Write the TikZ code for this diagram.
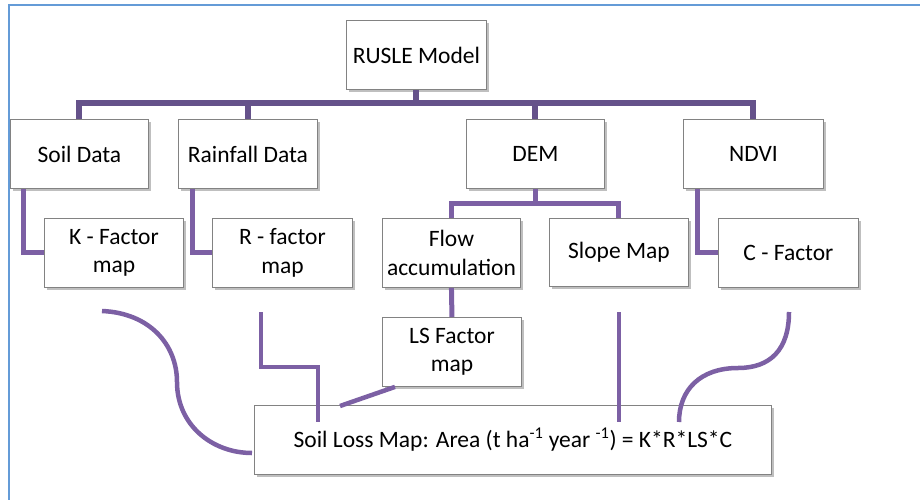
\documentclass[tikz,border=0pt]{standalone}
\usepackage{fontspec}
\setmainfont{Carlito}
\usetikzlibrary{shadows}
\definecolor{frameblue}{RGB}{100,155,215}
\definecolor{busp}{RGB}{101,82,138}
\definecolor{linep}{RGB}{124,96,164}
\definecolor{boxgray}{RGB}{130,130,130}
\tikzset{
  bx/.style={draw=boxgray, line width=0.9pt, fill=white, rectangle, anchor=north west,
    inner sep=0pt, align=center, font=\fontsize{23.5}{28.5}\selectfont,
    drop shadow={shadow xshift=2.5pt, shadow yshift=-2.5pt, fill=black, opacity=0.25}},
  busline/.style={draw=busp, line width=6pt},
  conn/.style={draw=linep, line width=5pt},
  curv/.style={draw=linep, line width=4.5pt},
  framel/.style={draw=frameblue, line width=1.6pt}
}
\begin{document}
\begin{tikzpicture}[x=1pt,y=-1pt]
\useasboundingbox (0,0) rectangle (920,500);
% frame
\coordinate (fa) at (9,500);
\coordinate (fb) at (9,5);
\coordinate (fc) at (920,5);
\draw[framel] (fa) -- (fb) -- (fc);
% nodes
\node[bx, minimum width=140pt, minimum height=69pt] (rusle) at (346,20) {RUSLE Model};
\node[bx, minimum width=138pt, minimum height=69pt] (soil) at (10,119) {Soil Data};
\node[bx, minimum width=139pt, minimum height=69pt] (rain) at (178,119) {Rainfall Data};
\node[bx, minimum width=138pt, minimum height=69pt] (dem) at (466,119) {DEM};
\node[bx, minimum width=140pt, minimum height=69pt] (ndvi) at (683,119) {NDVI};
\node[bx, minimum width=139pt, minimum height=69pt] (kf) at (44,218) {K - Factor\\map};
\node[bx, minimum width=140pt, minimum height=69pt] (rf) at (212,218) {R - factor\\map};
\node[bx, minimum width=138pt, minimum height=69pt] (flow) at (382,218) {Flow\\accumulation};
\node[bx, minimum width=139pt, minimum height=68pt] (slope) at (549,218) {Slope Map};
\node[bx, minimum width=140pt, minimum height=69pt] (cf) at (718,218) {C - Factor};
\node[bx, minimum width=139pt, minimum height=69pt] (ls) at (382,317) {LS Factor\\map};
\node[bx, minimum width=517pt, minimum height=69pt] (sl) at (254,405) {Soil Loss Map: Area (t ha\textsuperscript{-1} year \textsuperscript{-1}) = K*R*LS*C};
% top bus
\coordinate (bus) at (0,103);
\draw[busline] (rusle.south) -- (rusle.south |- bus);
\draw[busline] (soil.north) -- (soil.north |- bus) -- (ndvi.north |- bus) -- (ndvi.north);
\draw[busline] (rain.north) -- (rain.north |- bus);
\draw[busline] (dem.north) -- (dem.north |- bus);
% side connectors
\draw[conn] ([xshift=13pt]soil.south west) |- (kf.west);
\draw[conn] ([xshift=14pt]rain.south west) |- (rf.west);
\draw[conn] ([xshift=14pt]ndvi.south west) |- (cf.west);
% DEM sub-bus
\coordinate (dbus) at (0,203);
\draw[conn] (dem.south) -- (dem.south |- dbus);
\draw[conn] (flow.north) -- (flow.north |- dbus) -- (slope.north |- dbus) -- (slope.north);
\draw[conn] (flow.south) -- (ls.north);
% bottom connectors
\coordinate (k0) at (102,311);
\coordinate (km) at (177,382);
\coordinate (k1) at (252,453);
\draw[curv] (k0) .. controls (150,313) and (177,345) .. (km) .. controls (177,425) and (212,453) .. (k1);
\coordinate (r0) at (261,312);
\coordinate (r1) at (318,367);
\coordinate (r2) at (318,422);
\draw[curv] (r0) |- (r1) -- (r2);
\coordinate (l1) at (340,406);
\draw[curv] ([xshift=13pt]ls.south west) -- (l1);
\coordinate (s0) at (619,312);
\coordinate (s1) at (619,422);
\draw[curv] (s0) -- (s1);
\coordinate (c0) at (789,312);
\coordinate (cm) at (738,368);
\coordinate (c1) at (679,422);
\draw[curv] (c0) .. controls (789,350) and (770,368) .. (cm) .. controls (700,368) and (679,390) .. (c1);
\end{tikzpicture}
\end{document}
